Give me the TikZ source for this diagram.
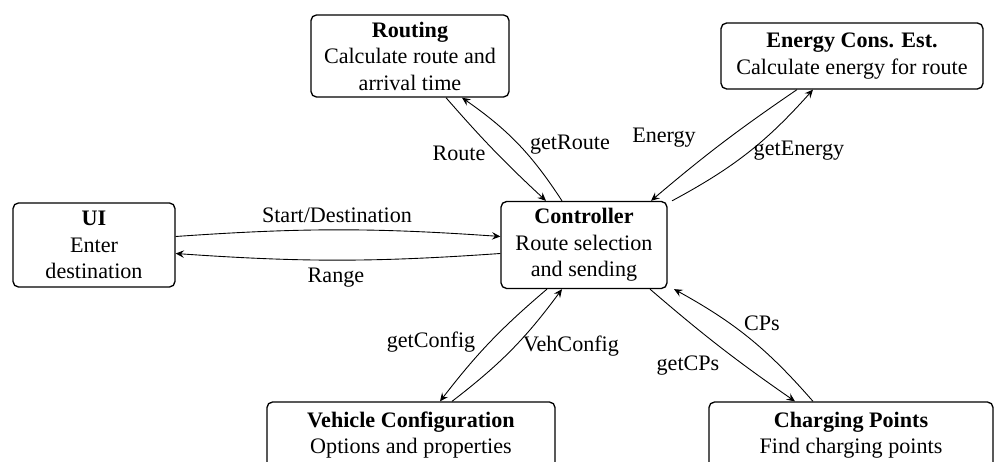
\documentclass[tikz,border=0pt]{standalone}
\usepackage{fontspec}
\setmainfont{Liberation Serif}
\usetikzlibrary{calc,arrows.meta}

\begin{document}
\begin{tikzpicture}[x=0.452pt, y=0.452pt, >={Stealth[length=3.8pt, width=3.4pt, inset=1.4pt]},
  block/.style={draw, semithick, rounded corners=2.5pt, align=center, inner sep=2pt}]

\useasboundingbox (0,0) rectangle (996,462);
\clip (0,0) rectangle (996,462);

\node[block, minimum width=73.2pt, minimum height=38pt] (UI) at (94,217) {\textbf{UI}\\Enter\\destination};
\node[block, minimum width=75pt, minimum height=39.3pt] (Ctrl) at (584,217) {\textbf{Controller}\\Route selection\\and sending};
\node[block, minimum width=89.5pt, minimum height=37.1pt] (Routing) at (410,406) {\textbf{Routing}\\Calculate route and\\arrival time};
\node[block, minimum width=118.4pt, minimum height=29.8pt] (Energy) at (852,406) {\textbf{Energy Cons. Est.}\\Calculate energy for route};
\node[block, minimum width=130.2pt, minimum height=29.8pt] (Vehicle) at (411,27) {\textbf{Vehicle Configuration}\\Options and properties};
\node[block, minimum width=128.4pt, minimum height=29.8pt] (CP) at (851,27) {\textbf{Charging Points}\\Find charging points};

\path[->] ($(UI.east)+(0,8.5)$) edge[bend left=4] ($(Ctrl.west)+(0,8.5)$);
\path[->] ($(Ctrl.west)+(0,-8.5)$) edge[bend left=4] ($(UI.east)+(0,-8.5)$);
\path[->] ($(Routing.south)+(36,0)$) edge[bend right=3] ($(Ctrl.north)+(-38,0)$);
\path[->] ($(Ctrl.north)+(-22,0)$) edge[bend right=11] ($(Routing.south)+(52,0)$);
\path[->] ($(Energy.south)+(-55,0)$) edge[bend right=3] ($(Ctrl.north)+(67,0)$);
\path[->] ($(Ctrl.north)+(88,0)$) edge[bend right=10] ($(Energy.south)+(-39,0)$);
\path[->] ($(Ctrl.south)+(-37,0)$) edge[bend right=6] ($(Vehicle.north)+(29,0)$);
\path[->] ($(Vehicle.north)+(41,0)$) edge[bend right=8] ($(Ctrl.south)+(-22,0)$);
\path[->] ($(Ctrl.south)+(66,0)$) edge[bend right=3] ($(CP.north)+(-56,0)$);
\path[->] ($(CP.north)+(-38,0)$) edge[bend right=10] ($(Ctrl.south)+(90,0)$);

\node (lStart) at (337,247) {Start/Destination};
\node (lRange) at (336,184) {Range};
\node (lRoute) at (459,309) {Route};
\node (lGetRoute) at (570,317) {getRoute};
\node (lEnergy) at (664,324) {Energy};
\node (lGetEnergy) at (799,311) {getEnergy};
\node (lGetConfig) at (431,120) {getConfig};
\node (lVehConfig) at (571,116) {VehConfig};
\node (lGetCPs) at (688,96) {getCPs};
\node (lCPs) at (762,139) {CPs};

\end{tikzpicture}
\end{document}
